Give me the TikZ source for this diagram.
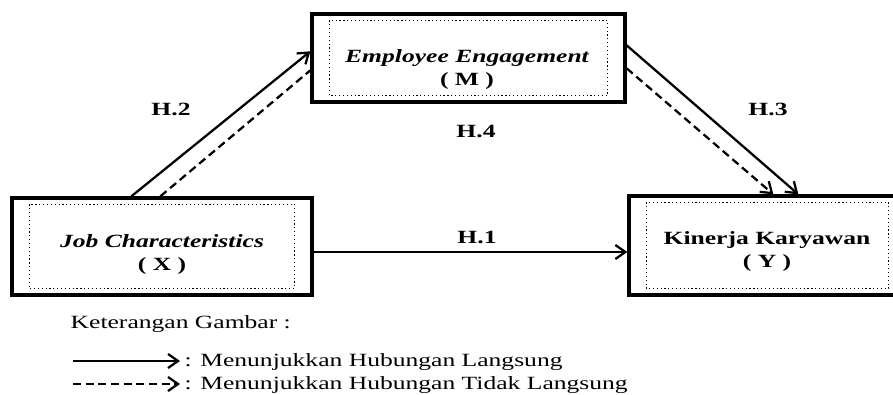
\documentclass[tikz,border=0pt]{standalone}
\usepackage{fontspec}
\setmainfont[FakeStretch=1.37]{Liberation Serif}
\usetikzlibrary{arrows.meta}

\begin{document}
\begin{tikzpicture}[x=0.75pt, y=-0.75pt,
  varbox/.style={draw, line width=2.5pt, inner sep=0pt},
  inner/.style={draw, dotted, line width=0.9pt},
  boxtext/.style={anchor=base, inner sep=0pt, font=\fontsize{14pt}{16pt}\selectfont\bfseries},
  hyp/.style={font=\fontsize{14pt}{16pt}\selectfont\bfseries, inner sep=0pt},
  legend/.style={anchor=base west, font=\fontsize{14pt}{16pt}\selectfont},
  tip/.style={-{Straight Barb[length=7.5pt,width=10.5pt]}},
  direct/.style={line width=1.7pt, tip},
  indirect/.style={line width=1.7pt, dash pattern=on 6pt off 3.5pt},
]
\useasboundingbox (0,0) rectangle (893,394);
\clip (0,0) rectangle (893,394);

% variable boxes
\node[varbox, minimum width=225pt, minimum height=72.75pt] (X) at (162,246.5) {};
\node[varbox, minimum width=234.75pt, minimum height=66pt] (M) at (468.5,58) {};
\node[varbox, minimum width=207.75pt, minimum height=74.25pt] (Y) at (767.5,245.5) {};

% dotted inner frames
\foreach \b in {X,M,Y}
  \draw[inner] ([shift={(19,8)}]\b.north west) rectangle ([shift={(-19,-8)}]\b.south east);

% box captions
\node[boxtext] (Xa) at (162,247) {\itshape Job Characteristics};
\node[boxtext] (Xb) at (162,270) {( X )};
\node[boxtext] (Ma) at (467,62) {\itshape Employee Engagement};
\node[boxtext] (Mb) at (467,85) {( M )};
\node[boxtext] (Ya) at (767,244) {Kinerja Karyawan};
\node[boxtext] (Yb) at (767,267) {( Y )};

% paths between variables
\draw[direct] ([shift={(121,0)}]X.north west) -- ([shift={(0,39)}]M.north west);
\draw[indirect] ([shift={(150,0)}]X.north west) -- ([shift={(0,58)}]M.north west);
\draw[direct] ([shift={(0,33)}]M.north east) -- ([shift={(171,0)}]Y.north west);
\draw[indirect, tip] ([shift={(0,56)}]M.north east) -- ([shift={(146,0)}]Y.north west);
\draw[direct] ([shift={(0,5.5)}]X.east) -- ([shift={(0,6.5)}]Y.west);

% hypothesis labels
\node[hyp] (h2) at (171,109) {H.2};
\node[hyp] (h4) at (476,131) {H.4};
\node[hyp] (h3) at (768,109) {H.3};
\node[hyp] (h1) at (477,237) {H.1};

% legend
\node[legend] (legtitle) at (66,328) {Keterangan Gambar :};
\coordinate (ls) at (73,361);
\coordinate (ld) at (73,384);
\node[legend] (legsolid) at (180,366) {: Menunjukkan Hubungan Langsung};
\node[legend] (legdash) at (180,389) {: Menunjukkan Hubungan Tidak Langsung};
\draw[direct] (ls) -- (legsolid.west |- ls);
\draw[indirect, tip] (ld) -- (legdash.west |- ld);
\end{tikzpicture}
\end{document}
